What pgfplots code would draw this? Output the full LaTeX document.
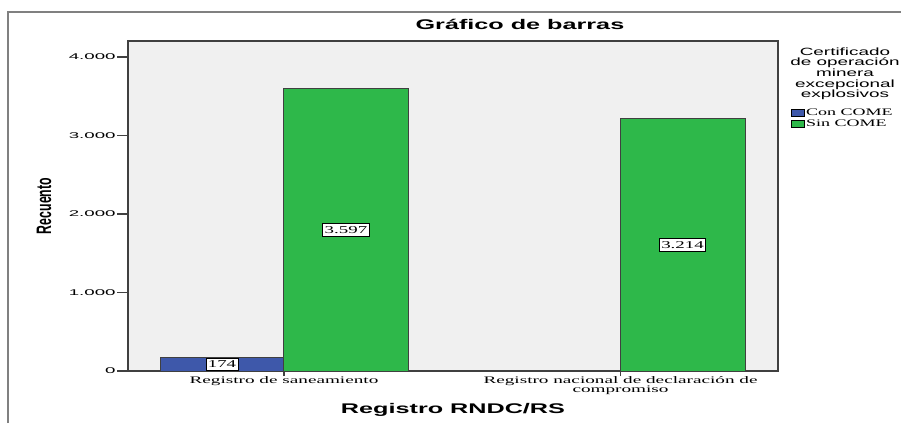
\documentclass[border=0pt]{standalone}
\usepackage{fontspec}
\setmainfont{Liberation Serif}
\setsansfont{Liberation Sans}
\usepackage{pgfplots}
\pgfplotsset{compat=1.18}
\definecolor{bggray}{RGB}{240,240,240}
\definecolor{barblue}{RGB}{62,88,170}
\definecolor{bargreen}{RGB}{46,184,74}
\definecolor{axgray}{RGB}{64,64,64}
\definecolor{framegray}{RGB}{128,128,128}
\newcommand{\xs}[1]{\scalebox{1.8}[1]{#1}}
\newcommand{\xl}[1]{\scalebox{1.92}[1]{\begin{tabular}[t]{@{}c@{}}#1\end{tabular}}}
\pgfplotsset{mylegend/.style={legend image code/.code={\draw[##1, draw=black, line width=0.6pt] (0pt,-3.5pt) rectangle (13pt,3.5pt);}}}
\begin{document}
\begin{tikzpicture}
\useasboundingbox (0,0) rectangle (901pt,423pt);
\draw[framegray, line width=2pt] (8pt,0) -- (8pt,411pt) -- (902pt,411pt);
\begin{axis}[
  at={(128pt,52pt)}, anchor=south west,
  width=650pt, height=330pt, scale only axis,
  xmin=-0.4636, xmax=1.468, ymin=0, ymax=4204,
  axis background/.style={fill=bggray},
  axis line style={draw=axgray, line width=1.2pt},
  every tick/.style={axgray, line width=1.2pt},
  tick align=outside, xtick pos=bottom, ytick pos=left,
  xtick={0,1}, ytick={0,1000,2000,3000,4000},
  xtick style={/pgfplots/major tick length=5pt},
  ytick style={/pgfplots/major tick length=11pt},
  xticklabels={{\xl{Registro de saneamiento}}, {\xl{Registro nacional de declaración de\\compromiso}}},
  xticklabel style={font=\fontsize{10}{9.5}\selectfont, inner sep=0pt, anchor=north, yshift=-1pt},
  yticklabel={\scalebox{2.25}[1]{\pgfmathprintnumber{\tick}}},
  yticklabel style={font=\sffamily\fontsize{8.3}{8.3}\selectfont, anchor=east, inner sep=2pt, xshift=-6pt},
  /pgf/number format/.cd, 1000 sep={.}, assume math mode=true, /pgfplots/.cd,
  title={\xs{Gráfico de barras}},
  title style={at={(axis description cs:0.603,1)}, anchor=base, yshift=5.3pt, inner sep=0pt, font=\fontsize{14}{14}\selectfont\sffamily\bfseries},
  xlabel={\xs{Registro RNDC/RS}},
  xlabel style={at={(axis description cs:0.5,0)}, anchor=north, yshift=-32pt, inner sep=0pt, font=\fontsize{14}{14}\selectfont\sffamily\bfseries},
  ylabel={\scalebox{1}[1.7]{Recuento}},
  ylabel style={at={(axis description cs:-0.1292,0.5)}, anchor=center, font=\fontsize{12.3}{12}\selectfont\sffamily\bfseries},
  nodes near coords={\xs{\pgfmathprintnumber{\pgfplotspointmeta}}},
  visualization depends on={y \as \rawy},
  every node near coord/.append style={anchor=center, yshift={-\rawy*0.039248}, fill=white, draw=black, line width=0.6pt, inner xsep=2pt, inner ysep=2.5pt, font=\rmfamily\fontsize{10.5}{10.5}\selectfont},
  legend style={at={(axis description cs:1.02,0.80)}, anchor=north west, draw=none, fill=none, inner sep=0pt, row sep=1pt, font=\rmfamily\fontsize{10}{10}\selectfont, nodes={inner sep=1.2pt, anchor=west}},
  legend cell align=left,
]
\addplot[ybar, bar width=124pt, bar shift=-62pt, fill=barblue, draw=axgray, line width=0.8pt, mylegend,
  every node near coord/.append style={xshift=-62pt}] coordinates {(0,174)};
\addlegendentry{\xs{Con COME}}
\addplot[ybar, bar width=125pt, bar shift=62pt, fill=bargreen, draw=axgray, line width=0.8pt, mylegend,
  every node near coord/.append style={xshift=62pt}] coordinates {(0,3597) (1,3214)};
\addlegendentry{\xs{Sin COME}}
\end{axis}
\node[align=center, anchor=north, inner sep=0pt, font=\sffamily\fontsize{10.5}{10.6}\selectfont] at (845pt,375.5pt) {\xs{Certificado}\\\xs{de operación}\\\xs{minera}\\\xs{excepcional}\\\xs{explosivos}};
\end{tikzpicture}
\end{document}
